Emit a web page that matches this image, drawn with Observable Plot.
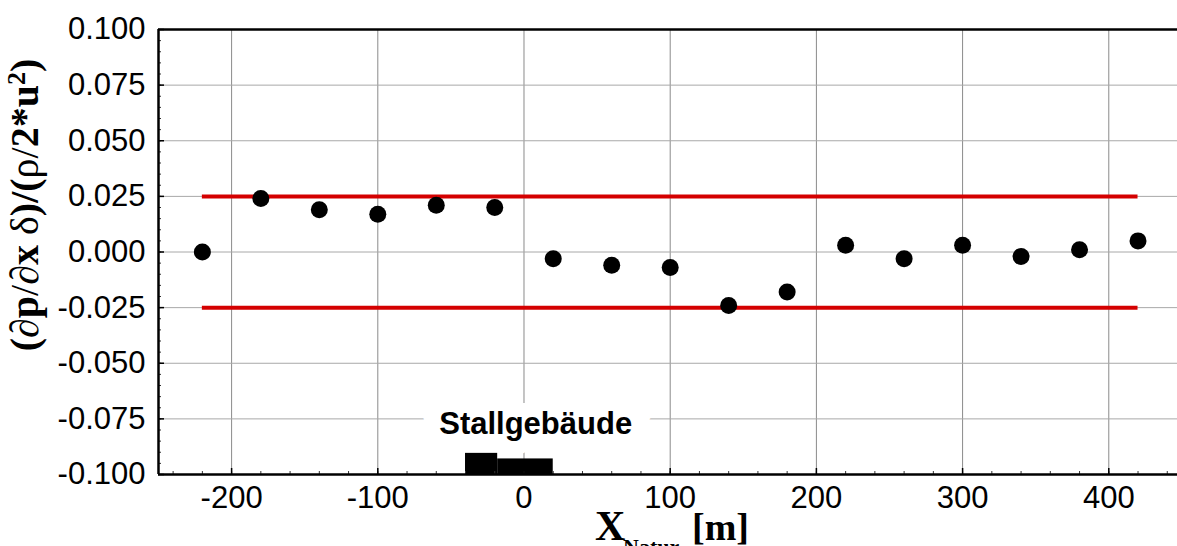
<!DOCTYPE html>
<html>
<head>
<meta charset="utf-8">
<script src="https://cdn.jsdelivr.net/npm/d3@7"></script>
<script src="https://cdn.jsdelivr.net/npm/@observablehq/plot@0.6"></script>
<style>
  html, body { margin: 0; padding: 0; background: #fff; }
  #chart { width: 1177px; height: 546px; overflow: hidden; }
</style>
</head>
<body>
<div id="chart"></div>
<script>
// ---- data ----
const positions = [-220, -180, -140, -100, -60, -20, 20, 60, 100, 140, 180, 220, 260, 300, 340, 380, 420];
const gradients = [0.000, 0.024, 0.019, 0.017, 0.021, 0.020, -0.003, -0.006, -0.007, -0.024, -0.018, 0.003, -0.003, 0.003, -0.002, 0.001, 0.005];
const limitValues = [0.025, -0.025];
const limitStart = [-220];
const limitEnd = [420];
const buildingLeft = [-40, -18];
const buildingRight = [-18, 20];
const buildingTop = [-0.0905, -0.093];
const buildingBase = [-0.1, -0.1];
const labelText = ["Stallgebäude"];
const labelX = [8];
const labelY = [-0.0775];
const xDomain = [-250, 447];
const yDomain = [-0.1, 0.1];
const xTicks = [-200, -100, 0, 100, 200, 300, 400];
const xMinorTicks = d3.range(-240, 441, 20);
const yTicks = [-0.1, -0.075, -0.05, -0.025, 0, 0.025, 0.05, 0.075, 0.1];
const yMinorTicks = d3.range(-20, 21).map(i => i * 0.005);

const points = positions.map((x, i) => ({x, y: gradients[i]}));
const limits = limitValues.map(v => ({y: v, x1: limitStart[0], x2: limitEnd[0]}));
const building = buildingLeft.map((x1, i) => ({x1, x2: buildingRight[i], y1: buildingBase[i], y2: buildingTop[i]}));
const labels = labelText.map((t, i) => ({t, x: labelX[i], y: labelY[i]}));

const plot = Plot.plot({
  width: 1177,
  height: 546,
  marginLeft: 158,
  marginTop: 29,
  marginBottom: 72,
  marginRight: 0,
  style: {fontFamily: "'Liberation Sans', Arial, sans-serif", fontSize: "31px", background: "#fff", overflow: "visible"},
  x: {domain: xDomain},
  y: {domain: yDomain},
  marks: [
    Plot.gridX(xTicks, {stroke: "#8a8a8a", strokeOpacity: 1, strokeWidth: 1}),
    Plot.gridY(yTicks, {stroke: "#a8a8a8", strokeOpacity: 1, strokeWidth: 1}),
    Plot.ruleY(limits, {y: "y", x1: "x1", x2: "x2", stroke: "#d40000", strokeWidth: 4}),
    Plot.dot(points, {x: "x", y: "y", r: 8.5, fill: "black", stroke: "none"}),
    Plot.rect(building, {x1: "x1", x2: "x2", y1: "y1", y2: "y2", fill: "black"}),
    Plot.text(labels, {x: "x", y: "y", text: "t", fontWeight: "bold", fontSize: 31, fill: "black", stroke: "white", strokeWidth: 28, strokeLinejoin: "miter", paintOrder: "stroke"}),
    // minor ticks (inward)
    Plot.axisX({ticks: xMinorTicks, tickSize: -3, text: null, label: null, anchor: "bottom", stroke: "#333"}),
    Plot.axisY({ticks: yMinorTicks, tickSize: -3, text: null, label: null, anchor: "left", stroke: "#333"}),
    // major ticks (inward)
    Plot.axisX({ticks: xTicks, tickSize: -6, text: null, label: null, anchor: "bottom", strokeWidth: 1.5}),
    Plot.axisY({ticks: yTicks, tickSize: -6, text: null, label: null, anchor: "left", strokeWidth: 1.5}),
    // tick labels
    Plot.axisX({ticks: xTicks, tickSize: 0, tickPadding: 11, tickFormat: d => String(d), label: null, anchor: "bottom", fontSize: 31}),
    Plot.axisY({ticks: yTicks, tickSize: 0, tickPadding: 13, tickFormat: d => d.toFixed(3), label: null, anchor: "left", fontSize: 31}),
    // axis frame lines
    Plot.ruleX([xDomain[0]], {stroke: "black", strokeWidth: 2.5}),
    Plot.ruleY([yDomain[0], yDomain[1]], {stroke: "black", strokeWidth: 2.5})
  ]
});

const svg = d3.select(plot);
// y-axis label with mixed fonts
const yl = svg.append("text")
  .attr("transform", "translate(38,205) rotate(-90)")
  .attr("text-anchor", "middle")
  .style("font-family", "'Liberation Serif', 'Times New Roman', serif")
  .style("font-size", "40px")
  .style("font-weight", "bold")
  .attr("fill", "black");
const parts = [
  ["(", "bold"], ["∂", "normal"], ["p", "bold"], ["/", "normal"], ["∂", "normal"], ["x", "bold"],
  [" δ", "normal"], [")/(", "bold"], ["ρ", "normal"], ["/", "normal"], ["2*u", "bold"]
];
parts.forEach(([t, w]) => yl.append("tspan").style("font-weight", w).text(t));
yl.append("tspan").attr("dy", "-0.5em").style("font-size", "26px").text("2");
yl.append("tspan").attr("dy", "0.33em").text(")");

// x-axis label
const xl = svg.append("text")
  .attr("x", 595).attr("y", 540)
  .attr("text-anchor", "start")
  .style("font-family", "'Liberation Serif', 'Times New Roman', serif")
  .style("font-weight", "bold")
  .style("font-size", "42px")
  .attr("fill", "black");
xl.append("tspan").text("X");
xl.append("tspan").attr("x", 623).attr("dy", 14).style("font-size", "22px").text("Natur");
xl.append("tspan").attr("x", 692).attr("dy", -14).style("font-size", "38px").text("[m]");

document.getElementById("chart").appendChild(plot);
</script>
</body>
</html>
